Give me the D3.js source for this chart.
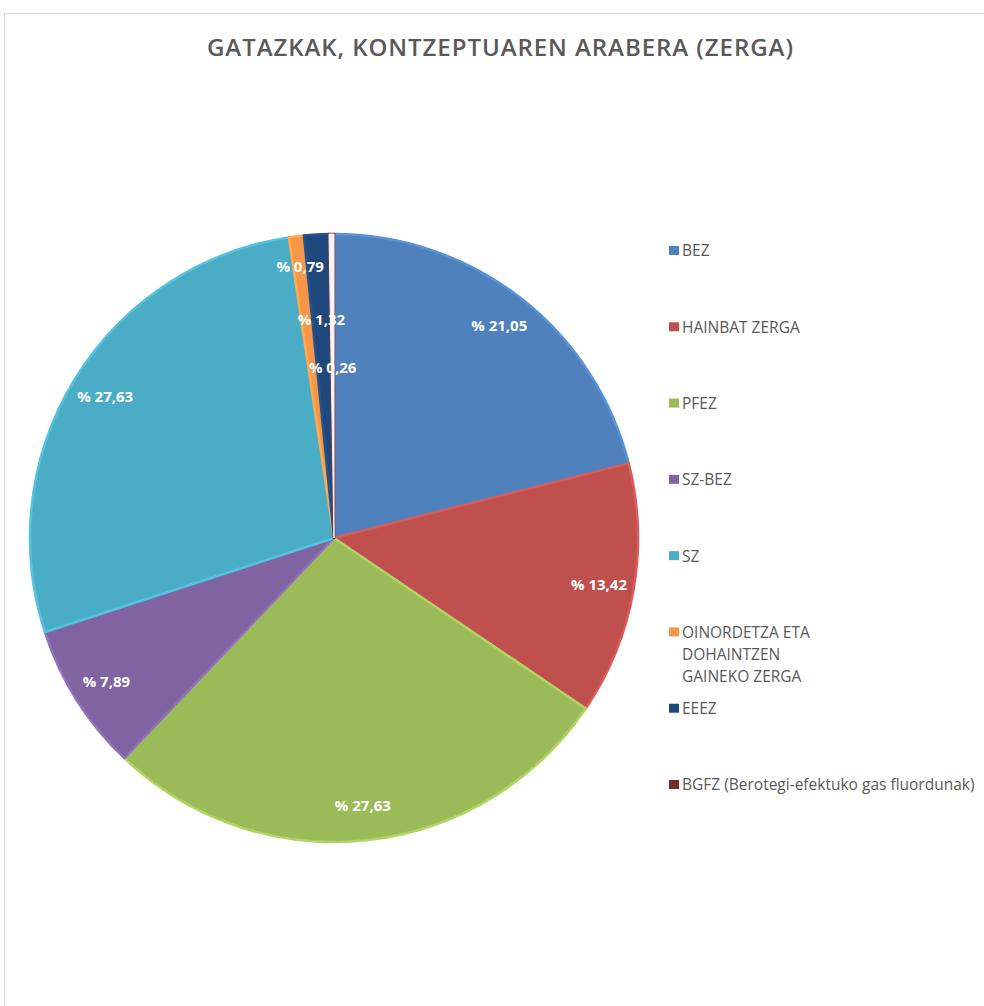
<html>
<head>
<script src="https://d3js.org/d3.v7.min.js"></script>
<style>
  body { margin: 0; background: #fff; }
  .title { font-family: "Open Sans", sans-serif; font-weight: 600; fill: #595959; }
  .legend text { font-family: "Open Sans", sans-serif; fill: #595959; }
  .lbl { font-family: "Open Sans", sans-serif; font-weight: 700; fill: #fff; }
</style>
</head>
<body>
<svg id="chart" width="984" height="1006"></svg>
<script>
// values (percent)
const categories = ["BEZ", "HAINBAT ZERGA", "PFEZ", "SZ-BEZ", "SZ",
                    "OINORDETZA ETA DOHAINTZEN GAINEKO ZERGA", "EEEZ",
                    "BGFZ (Berotegi-efektuko gas fluordunak)"];
const values = [21.05, 13.42, 27.63, 7.89, 27.63, 0.79, 1.32, 0.26];
const valueLabels = ["% 21,05", "% 13,42", "% 27,63", "% 7,89", "% 27,63", "% 0,79", "% 1,32", "% 0,26"];
// legend text split into lines as shown
const legendLines = [["BEZ"], ["HAINBAT ZERGA"], ["PFEZ"], ["SZ-BEZ"], ["SZ"],
                     ["OINORDETZA ETA", "DOHAINTZEN", "GAINEKO ZERGA"], ["EEEZ"],
                     ["BGFZ (Berotegi-efektuko gas fluordunak)"]];
const colors = ["#4f81bd", "#c0504d", "#9bbb59", "#8064a2", "#4bacc6", "#f79646", "#1f497d", "#772c2a"];

const svg = d3.select("#chart");

// chart area border
svg.append("rect")
   .attr("x", 4.5).attr("y", 13.5)
   .attr("width", 1000).attr("height", 1000)
   .attr("fill", "none").attr("stroke", "#d9d9d9").attr("stroke-width", 1);

svg.append("text").attr("class", "title")
   .attr("x", 500).attr("y", 56)
   .attr("text-anchor", "middle")
   .attr("font-size", 24)
   .attr("textLength", 586)
   .attr("lengthAdjust", "spacing")
   .text("GATAZKAK, KONTZEPTUAREN ARABERA (ZERGA)");

const cx = 334, cy = 538, r = 304;
const g = svg.append("g").attr("transform", "translate(" + cx + "," + cy + ")");

const pie = d3.pie().value(d => d).sort(null);
const arcs = pie(values);
const arc = d3.arc().innerRadius(0).outerRadius(r);

g.selectAll("path.slice").data(arcs)
  .join("path")
  .attr("class", "slice")
  .attr("d", arc)
  .attr("fill", (d, i) => colors[i])
  .attr("stroke", (d, i) => d3.color(colors[i]).brighter(0.35))
  .attr("stroke-width", 2.5)
  .attr("stroke-linejoin", "round");

// the very thin last slice shows up as a pale line in the picture
g.append("path")
  .datum(arcs[arcs.length - 1])
  .attr("d", arc)
  .attr("fill", "#f5f5f5")
  .attr("stroke", "#f5f5f5")
  .attr("stroke-width", 1);

// labels: large slices at ~0.88r, small ones stacked inward
let smallIdx = 0;
const smallR = [0.9, 0.72, 0.56];
g.selectAll("text.lbl").data(arcs)
  .join("text")
  .attr("class", "lbl")
  .attr("font-size", 15)
  .attr("text-anchor", "middle")
  .attr("dy", "0.35em")
  .attr("transform", d => {
      const small = (d.endAngle - d.startAngle) < 0.15;
      const k = small ? smallR[smallIdx++] : 0.885;
      const a = (d.startAngle + d.endAngle) / 2;
      return "translate(" + (Math.sin(a) * r * k) + "," + (-Math.cos(a) * r * k) + ")";
  })
  .text((d, i) => valueLabels[i]);

// legend
const ly = d3.scalePoint().domain(d3.range(categories.length)).range([251, 785]);
const legend = svg.append("g").attr("class", "legend");
const items = legend.selectAll("g").data(categories)
  .join("g")
  .attr("transform", (d, i) => "translate(669," + ly(i) + ")");
items.append("rect")
  .attr("x", 0).attr("y", -5)
  .attr("width", 10).attr("height", 9)
  .attr("fill", (d, i) => colors[i]);
items.append("text")
  .attr("x", 13).attr("y", 0)
  .attr("font-size", 15.5)
  .selectAll("tspan").data((d, i) => legendLines[i])
  .join("tspan")
  .attr("x", 13)
  .attr("dy", (d, j) => j === 0 ? "0.35em" : "22px")
  .text(d => d);
</script>
</body>
</html>
